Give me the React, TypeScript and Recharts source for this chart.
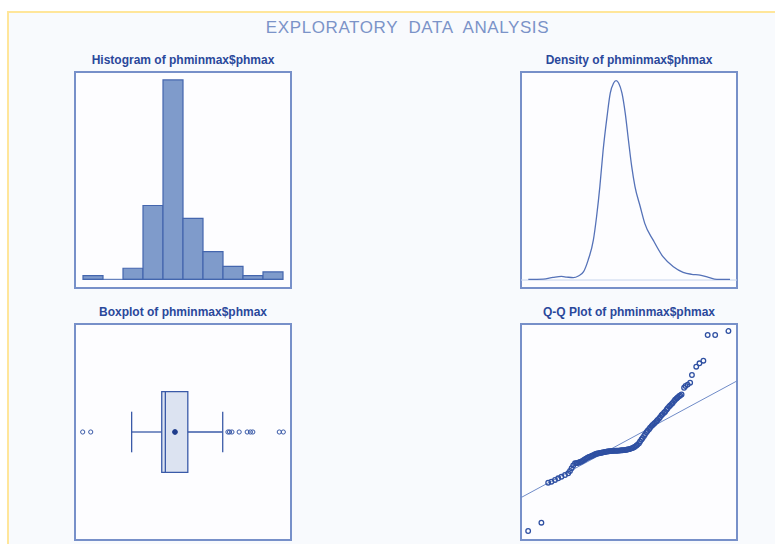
import React from 'react';
import {
  BarChart,
  Bar,
  LineChart,
  Line,
  ScatterChart,
  Scatter,
  XAxis,
  YAxis,
  ReferenceLine,
  ReferenceArea,
} from 'recharts';

// histogram bins (lower edge) and counts
const histBins = ['6.00', '6.25', '6.50', '6.75', '7.00', '7.25', '7.50', '7.75', '8.00', '8.25'];
const histCounts = [2, 0, 6, 40, 108, 33, 15, 7, 2, 4];

// kernel density curve
const densityX = [5.7, 5.93, 6.08, 6.21, 6.29, 6.39, 6.47, 6.55, 6.62, 6.7, 6.75, 6.8, 6.85, 6.91, 6.96, 7.01, 7.05, 7.09, 7.14, 7.19, 7.24, 7.29, 7.34, 7.42, 7.49, 7.62, 7.77, 7.93, 8.08, 8.21, 8.34, 8.47, 8.6, 8.8];
const densityY = [0.005, 0.008, 0.021, 0.029, 0.024, 0.019, 0.032, 0.067, 0.16, 0.32, 0.51, 0.75, 1.04, 1.31, 1.5, 1.58, 1.6, 1.58, 1.5, 1.34, 1.12, 0.91, 0.75, 0.59, 0.455, 0.32, 0.187, 0.107, 0.062, 0.046, 0.04, 0.021, 0.005, 0.005];

// boxplot: whisker low, Q1, median, Q3, whisker high
const boxFive = [6.61, 6.985, 7.03, 7.31, 7.745];
const boxMean = 7.15;
const boxOutliers = [6.0, 6.1, 7.81, 7.83, 7.86, 7.95, 8.05, 8.09, 8.12, 8.45, 8.5];

// Q-Q plot: theoretical quantile vs sample value
const qqTheoretical = [
  -2.8, -2.43, -2.24, -2.15, -2.05, -1.96, -1.87, -1.77, -1.68, -1.63, -1.585, -1.54,
  -1.49, -1.45, -1.42, -1.38, -1.35, -1.31, -1.28, -1.24, -1.21, -1.17, -1.14, -1.1, -1.07, -1.03,
  -1.0, -0.96, -0.93, -0.89, -0.86, -0.82, -0.79, -0.75, -0.72, -0.68, -0.65, -0.61, -0.58, -0.54,
  -0.51, -0.47, -0.44, -0.4, -0.37, -0.33, -0.3, -0.26, -0.23, -0.19, -0.16, -0.12, -0.09, -0.05,
  -0.02, 0.02, 0.05, 0.09, 0.12, 0.16, 0.19, 0.23, 0.26, 0.3, 0.33, 0.37, 0.4, 0.44, 0.47, 0.51,
  0.54, 0.58, 0.61, 0.65, 0.68, 0.72, 0.75, 0.79, 0.82, 0.86, 0.89, 0.93, 0.96, 1.0, 1.03, 1.07,
  1.1, 1.14, 1.17, 1.21, 1.24, 1.28, 1.31, 1.35, 1.38, 1.42, 1.45, 1.49,
  1.56, 1.6, 1.66, 1.73, 1.78, 1.9, 1.99, 2.1, 2.22, 2.43, 2.8,
];
const qqSample = [
  6.0, 6.104, 6.604, 6.616, 6.638, 6.659, 6.679, 6.7, 6.721, 6.75, 6.784, 6.82,
  6.846, 6.848, 6.851, 6.857, 6.862, 6.87, 6.877, 6.888, 6.897, 6.908, 6.917, 6.925, 6.93, 6.937,
  6.944, 6.952, 6.959, 6.965, 6.969, 6.972, 6.975, 6.979, 6.982, 6.986, 6.988, 6.992, 6.995, 6.997,
  6.998, 7.0, 7.001, 7.002, 7.004, 7.004, 7.004, 7.005, 7.007, 7.009, 7.01, 7.011, 7.013, 7.016,
  7.019, 7.023, 7.027, 7.033, 7.039, 7.047, 7.055, 7.068, 7.08, 7.098, 7.12, 7.143, 7.163, 7.189, 7.21, 7.235,
  7.253, 7.272, 7.29, 7.311, 7.325, 7.341, 7.355, 7.373, 7.387, 7.405, 7.424, 7.447, 7.461, 7.478, 7.492, 7.515,
  7.535, 7.555, 7.568, 7.586, 7.6, 7.624, 7.64, 7.657, 7.67, 7.685, 7.695, 7.706,
  7.79, 7.813, 7.83, 7.854, 7.95, 8.054, 8.096, 8.129, 8.45, 8.45, 8.5,
];
const qqLineX = [-3.0, 3.04];
const qqLineY = [6.4175, 7.876];

const histData = histBins.map((bin, i) => ({ bin, count: histCounts[i] }));
const densityData = densityX.map((x, i) => ({ x, y: densityY[i] }));
const outlierData = boxOutliers.map((x) => ({ x, y: 0.5 }));
const meanData = [{ x: boxMean, y: 0.5 }];
const qqData = qqTheoretical.map((x, i) => ({ x, y: qqSample[i] }));

const FONT = '"Liberation Sans", Arial, sans-serif';
const FRAME = '#7790C9';
const INK = '#3A5AA8';
const SIZE = 216;

const Hollow = (props: any) => (
  <circle cx={props.cx} cy={props.cy} r={2.1} fill="none" stroke={INK} strokeWidth={1} />
);
const QQDot = (props: any) => (
  <circle cx={props.cx} cy={props.cy} r={2.3} fill="none" stroke="#2F50A2" strokeWidth={1.3} />
);
const Dot = (props: any) => (
  <circle cx={props.cx} cy={props.cy} r={2.4} fill="#1E3C8C" stroke="#1E3C8C" />
);

const Panel = ({ left, top, title, children }: any) => (
  <>
    <div
      style={{
        position: 'absolute',
        left: left - 40,
        top: top - 19,
        width: SIZE + 80,
        textAlign: 'center',
        font: `bold 12px ${FONT}`,
        lineHeight: '14px',
        color: '#2A489B',
        whiteSpace: 'nowrap',
      }}
    >
      {title}
    </div>
    <div
      style={{
        position: 'absolute',
        left: left - 1,
        top: top - 1,
        width: SIZE + 2,
        height: SIZE + 2,
        boxSizing: 'border-box',
        border: `2px solid ${FRAME}`,
        background: '#FDFDFF',
      }}
    />
    <div style={{ position: 'absolute', left, top, width: SIZE, height: SIZE }}>{children}</div>
  </>
);

export default function App() {
  const [w0, q1, med, q3, w1] = boxFive;
  return (
    <div style={{ position: 'relative', width: 775, height: 544, overflow: 'hidden', background: '#fff' }}>
      <style>{'body{margin:0;overflow:hidden}'}</style>
      <div
        style={{
          position: 'absolute',
          left: 7,
          top: 11,
          width: 820,
          height: 600,
          border: '2px solid #FFE69A',
          background: '#F8FAFD',
        }}
      />
      <div
        style={{
          position: 'absolute',
          left: 0,
          top: 17,
          width: 815,
          textAlign: 'center',
          font: `17px ${FONT}`,
          letterSpacing: 0.6,
          lineHeight: '21px',
          color: '#7B93C8',
          whiteSpace: 'pre',
        }}
      >
        {'EXPLORATORY  DATA  ANALYSIS'}
      </div>

      <Panel left={75} top={72} title="Histogram of phminmax$phmax">
        <BarChart width={SIZE} height={SIZE} data={histData} margin={{ top: 0, right: 8, bottom: 0, left: 8 }} barCategoryGap={0}>
          <XAxis dataKey="bin" hide />
          <YAxis hide domain={[-4.7, 112.3]} />
          <ReferenceLine y={0} stroke="#4466AE" strokeWidth={1} />
          <Bar dataKey="count" fill="#7F9BCB" stroke="#4466AE" strokeWidth={1.2} isAnimationActive={false} />
        </BarChart>
      </Panel>

      <Panel left={521} top={72} title="Density of phminmax$phmax">
        <LineChart width={SIZE} height={SIZE} data={densityData} margin={{ top: 0, right: 0, bottom: 0, left: 0 }}>
          <XAxis dataKey="x" type="number" hide domain={[5.588, 8.908]} />
          <YAxis hide domain={[-0.064, 1.67]} />
          <ReferenceLine y={0} stroke="#C5D3EC" strokeWidth={1} />
          <Line type="monotone" dataKey="y" stroke="#5572B8" strokeWidth={1.3} dot={false} isAnimationActive={false} />
        </LineChart>
      </Panel>

      <Panel left={75} top={324} title="Boxplot of phminmax$phmax">
        <ScatterChart width={SIZE} height={SIZE} margin={{ top: 0, right: 0, bottom: 0, left: 0 }}>
          <XAxis dataKey="x" type="number" hide domain={[5.904, 8.596]} />
          <YAxis dataKey="y" type="number" hide domain={[0, 1]} />
          <ReferenceLine segment={[{ x: w0, y: 0.5 }, { x: q1, y: 0.5 }]} stroke={INK} strokeWidth={1.3} />
          <ReferenceLine segment={[{ x: q3, y: 0.5 }, { x: w1, y: 0.5 }]} stroke={INK} strokeWidth={1.3} />
          <ReferenceLine segment={[{ x: w0, y: 0.406 }, { x: w0, y: 0.594 }]} stroke={INK} strokeWidth={1.3} />
          <ReferenceLine segment={[{ x: w1, y: 0.406 }, { x: w1, y: 0.594 }]} stroke={INK} strokeWidth={1.3} />
          <ReferenceArea x1={q1} x2={q3} y1={0.313} y2={0.687} fill="#DCE3F1" fillOpacity={1} stroke={INK} strokeWidth={1.3} />
          <ReferenceLine segment={[{ x: med, y: 0.313 }, { x: med, y: 0.687 }]} stroke={INK} strokeWidth={1.3} />
          <Scatter data={outlierData} shape={Hollow} isAnimationActive={false} />
          <Scatter data={meanData} shape={Dot} isAnimationActive={false} />
        </ScatterChart>
      </Panel>

      <Panel left={521} top={324} title="Q-Q Plot of phminmax$phmax">
        <ScatterChart width={SIZE} height={SIZE} margin={{ top: 0, right: 0, bottom: 0, left: 0 }}>
          <XAxis dataKey="x" type="number" hide domain={[-3.0, 3.04]} />
          <YAxis dataKey="y" type="number" hide domain={[5.8875, 8.5875]} />
          <ReferenceLine
            segment={[{ x: qqLineX[0], y: qqLineY[0] }, { x: qqLineX[1], y: qqLineY[1] }]}
            stroke="#6F8BC8"
            strokeWidth={1}
            ifOverflow="visible"
          />
          <Scatter data={qqData} shape={QQDot} isAnimationActive={false} />
        </ScatterChart>
      </Panel>
    </div>
  );
}
